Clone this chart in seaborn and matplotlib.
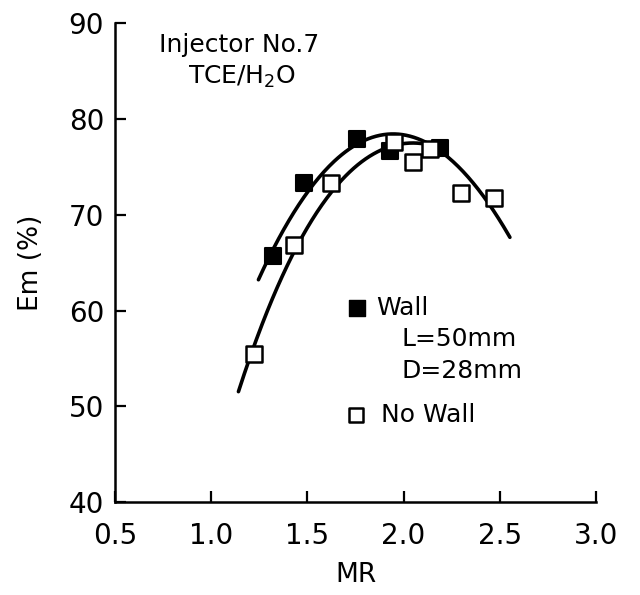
import numpy as np
import pandas as pd
import matplotlib
matplotlib.use("Agg")
import matplotlib.pyplot as plt
import seaborn as sns

# Measured points
wall_mr = [1.32, 1.48, 1.76, 1.93, 2.19]
wall_em = [65.7, 73.3, 77.9, 76.7, 77.0]
nowall_mr = [1.22, 1.43, 1.62, 1.95, 2.05, 2.14, 2.30, 2.47]
nowall_em = [55.5, 66.8, 73.3, 77.6, 75.5, 76.9, 72.3, 71.8]

# Curves (smoothed by polynomial fit)
wall_curve_mr = [1.245, 1.323, 1.513, 1.652, 1.76, 1.92, 2.05, 2.17, 2.276, 2.432, 2.553]
wall_curve_em = [63.3, 66.3, 72.9, 75.7, 77.4, 78.4, 78.2, 77.1, 74.7, 71.9, 67.5]
nowall_curve_mr = [1.141, 1.219, 1.436, 1.652, 1.773, 1.93, 2.05, 2.17]
nowall_curve_em = [52.0, 55.4, 66.7, 72.9, 75.7, 76.8, 77.5, 77.2]

xticks = [0.5, 1.0, 1.5, 2.0, 2.5, 3.0]
yticks = [40, 50, 60, 70, 80, 90]

sns.set_style("ticks")
plt.rcParams['font.family'] = ['DejaVu Sans']
for k in ["text.color", "axes.labelcolor", "xtick.color", "ytick.color", "axes.edgecolor"]:
    plt.rcParams[k] = "black"

fig = plt.figure(figsize=(6.4, 5.95), dpi=100)
ax = fig.add_axes([0.180, 0.156, 0.751, 0.805])

def smooth(xs, ys, deg=3):
    c = np.polyfit(xs, ys, deg)
    xx = np.linspace(min(xs), max(xs), 200)
    return pd.DataFrame({"x": xx, "y": np.polyval(c, xx)})

cw = smooth(wall_curve_mr, wall_curve_em)
cn = smooth(nowall_curve_mr, nowall_curve_em)
sns.lineplot(data=cw, x="x", y="y", ax=ax, color="black", lw=2.6, estimator=None, sort=False)
sns.lineplot(data=cn, x="x", y="y", ax=ax, color="black", lw=2.6, estimator=None, sort=False)

sns.scatterplot(x=wall_mr, y=wall_em, ax=ax, marker="s", s=125, color="black",
                edgecolor="black", linewidth=1.5, zorder=5)
sns.scatterplot(x=nowall_mr, y=nowall_em, ax=ax, marker="s", s=125, color="white",
                edgecolor="black", linewidth=1.8, zorder=6)

ax.set_xlim(0.5, 3.0)
ax.set_ylim(40, 90)
ax.set_xticks(xticks)
ax.set_yticks(yticks)
ax.set_xticklabels([f"{v:.1f}" for v in xticks])
ax.set_yticklabels([str(v) for v in yticks])
ax.tick_params(axis="both", direction="in", length=8, width=1.6, labelsize=20,
               colors="black")
ax.tick_params(axis="x", pad=14)
ax.tick_params(axis="y", pad=8)
for s in ["left", "bottom"]:
    ax.spines[s].set_linewidth(1.8)
    ax.spines[s].set_color("black")
sns.despine(ax=ax)

ax.set_xlabel("MR", fontsize=19, labelpad=9, color="black")
ax.set_ylabel("Em (%)", fontsize=19, labelpad=18, color="black")

# Annotations (data coordinates)
ax.text(0.73, 87.7, "Injector No.7", fontsize=18, va="center", ha="left")
ax.text(0.88, 84.4, r"TCE/H$_2$O", fontsize=18, va="center", ha="left")

ax.scatter([1.76], [60.3], marker="s", s=125, color="black", zorder=5)
ax.text(1.86, 60.3, "Wall", fontsize=18, va="center", ha="left")
ax.text(1.99, 57.0, "L=50mm", fontsize=18, va="center", ha="left")
ax.text(1.99, 53.7, "D=28mm", fontsize=18, va="center", ha="left")
ax.scatter([1.75], [49.1], marker="s", s=110, facecolor="white", edgecolor="black",
           linewidth=1.8, zorder=5)
ax.text(1.88, 49.1, "No Wall", fontsize=18, va="center", ha="left")

fig.savefig("out.png", dpi=100)
